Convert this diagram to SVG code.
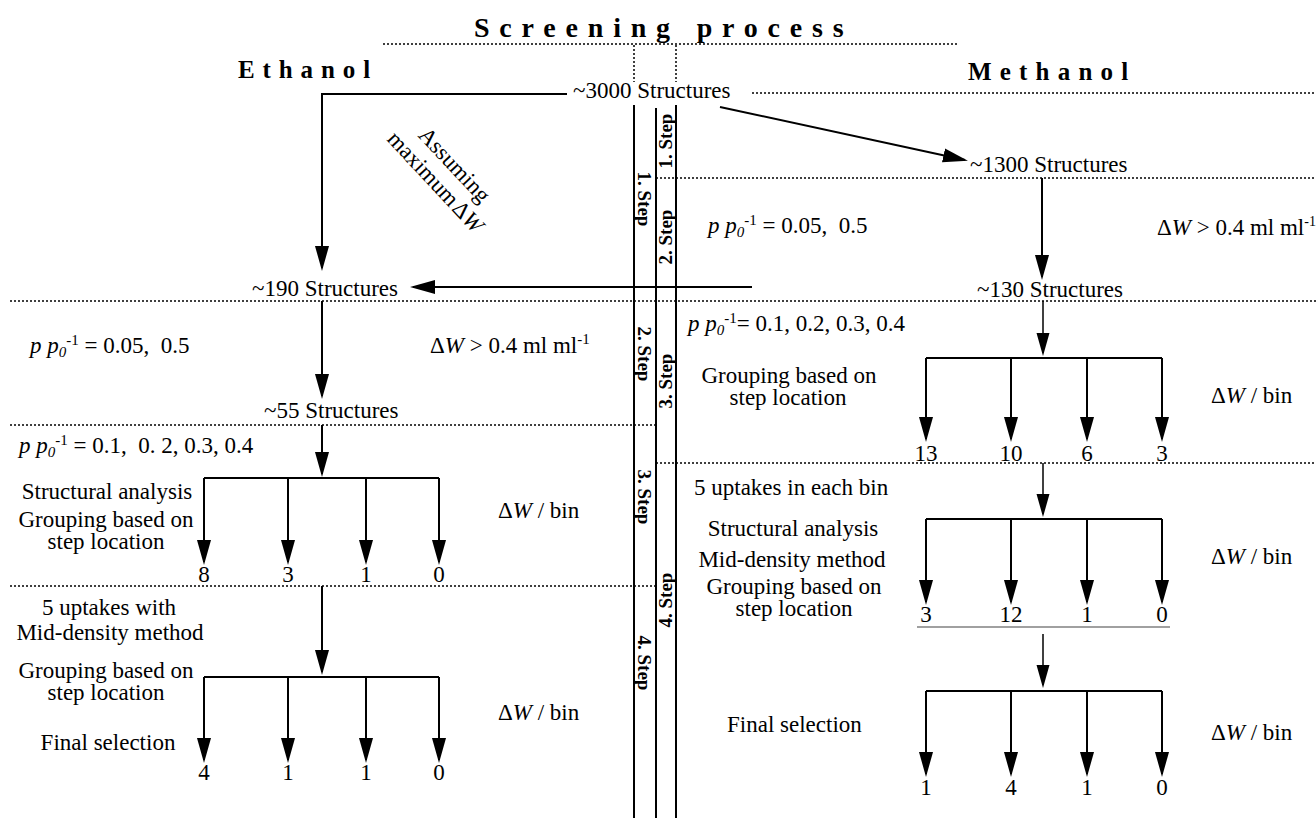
<svg xmlns="http://www.w3.org/2000/svg" width="1316" height="818" viewBox="0 0 1316 818">
<style>
.t{font-family:"Liberation Serif","Times New Roman",serif;font-size:23px;fill:#000}
.h{font-family:"Liberation Serif","Times New Roman",serif;font-weight:bold;fill:#000}
.st{font-family:"Liberation Serif","Times New Roman",serif;font-weight:bold;font-size:19px;fill:#000}
.m{text-anchor:middle}
.i{font-style:italic}
.ln{stroke:#000;stroke-width:2;fill:none}
.thin{stroke:#000;stroke-width:1.5;fill:none}
.dot{stroke:#000;stroke-width:1.5;stroke-dasharray:2 2;fill:none}
</style>
<defs>
<marker id="ah" markerUnits="userSpaceOnUse" markerWidth="26" markerHeight="16" viewBox="0 0 26 16" refX="22" refY="8" orient="auto"><path d="M0,1 L25,8 L0,15 z" fill="#000"/></marker>
<marker id="ahs" markerUnits="userSpaceOnUse" markerWidth="24" markerHeight="14" viewBox="0 0 24 14" refX="20" refY="7" orient="auto"><path d="M0,0.5 L23,7 L0,13.5 z" fill="#000"/></marker>
</defs>

<g id="title">
<text class="h" x="474" y="37" font-size="28" letter-spacing="9.8">Screening process</text>
<text class="h" x="238" y="78" font-size="25" letter-spacing="7.9">Ethanol</text>
<text class="h" x="968" y="80" font-size="25" letter-spacing="8.2">Methanol</text>
</g>

<g id="frame">
<line class="dot" x1="383" y1="44" x2="957" y2="44"/>
<line class="dot" x1="634" y1="45" x2="634" y2="82"/>
<line class="dot" x1="676" y1="45" x2="676" y2="82"/>
<line class="dot" x1="752" y1="93" x2="1316" y2="93"/>
<line class="dot" x1="656" y1="178" x2="1316" y2="178"/>
<line class="dot" x1="10" y1="301" x2="1316" y2="301"/>
<line class="dot" x1="10" y1="425" x2="655" y2="425"/>
<line class="dot" x1="656" y1="463" x2="1316" y2="463"/>
<line class="dot" x1="10" y1="586" x2="655" y2="586"/>
<line class="ln" x1="634" y1="105" x2="634" y2="818" stroke-width="1.8"/>
<line class="ln" x1="656" y1="108" x2="656" y2="818" stroke-width="1.8"/>
<line class="ln" x1="676" y1="105" x2="676" y2="818" stroke-width="1.8"/>
<line x1="917" y1="627" x2="1170" y2="627" stroke="#808080" stroke-width="1.5"/>
</g>

<g id="steps">
<text class="st m" transform="translate(672,141) rotate(-90)">1. Step</text>
<text class="st m" transform="translate(672,237) rotate(-90)">2. Step</text>
<text class="st m" transform="translate(672,381) rotate(-90)">3. Step</text>
<text class="st m" transform="translate(672,600) rotate(-90)">4. Step</text>
<text class="st m" transform="translate(638,199) rotate(90)">1. Step</text>
<text class="st m" transform="translate(638,354) rotate(90)">2. Step</text>
<text class="st m" transform="translate(638,497) rotate(90)">3. Step</text>
<text class="st m" transform="translate(638,663) rotate(90)">4. Step</text>
</g>

<g id="connectors">
<polyline class="ln" points="567,94 322,94 322,268" marker-end="url(#ah)"/>
<line class="ln" x1="720" y1="107" x2="965" y2="160" marker-end="url(#ah)"/>
<line class="ln" x1="1042" y1="178" x2="1042" y2="277" marker-end="url(#ah)"/>
<line class="ln" x1="752" y1="287" x2="413" y2="287" marker-end="url(#ah)"/>
<line class="ln" x1="322" y1="301" x2="322" y2="396" marker-end="url(#ah)"/>
<line class="ln" x1="322" y1="425" x2="322" y2="474" marker-end="url(#ah)"/>
<polyline class="ln" points="204,478 439,478"/>
<line class="ln" x1="204" y1="478" x2="204" y2="562" marker-end="url(#ah)"/>
<line class="ln" x1="288" y1="478" x2="288" y2="562" marker-end="url(#ah)"/>
<line class="ln" x1="366" y1="478" x2="366" y2="562" marker-end="url(#ah)"/>
<line class="ln" x1="439" y1="478" x2="439" y2="562" marker-end="url(#ah)"/>
<line class="ln" x1="322" y1="586" x2="322" y2="672" marker-end="url(#ah)"/>
<polyline class="ln" points="204,677 439,677"/>
<line class="ln" x1="204" y1="677" x2="204" y2="760" marker-end="url(#ah)"/>
<line class="ln" x1="288" y1="677" x2="288" y2="760" marker-end="url(#ah)"/>
<line class="ln" x1="366" y1="677" x2="366" y2="760" marker-end="url(#ah)"/>
<line class="ln" x1="439" y1="677" x2="439" y2="760" marker-end="url(#ah)"/>
<line class="thin" x1="1043" y1="301" x2="1043" y2="353" marker-end="url(#ahs)"/>
<polyline class="ln" points="926,358 1162,358"/>
<line class="ln" x1="926" y1="358" x2="926" y2="439" marker-end="url(#ah)"/>
<line class="ln" x1="1011" y1="358" x2="1011" y2="439" marker-end="url(#ah)"/>
<line class="ln" x1="1087" y1="358" x2="1087" y2="439" marker-end="url(#ah)"/>
<line class="ln" x1="1162" y1="358" x2="1162" y2="439" marker-end="url(#ah)"/>
<line class="thin" x1="1043" y1="463" x2="1043" y2="514" marker-end="url(#ahs)"/>
<polyline class="ln" points="926,519 1162,519"/>
<line class="ln" x1="926" y1="519" x2="926" y2="602" marker-end="url(#ah)"/>
<line class="ln" x1="1011" y1="519" x2="1011" y2="602" marker-end="url(#ah)"/>
<line class="ln" x1="1087" y1="519" x2="1087" y2="602" marker-end="url(#ah)"/>
<line class="ln" x1="1162" y1="519" x2="1162" y2="602" marker-end="url(#ah)"/>
<line class="thin" x1="1043" y1="634" x2="1043" y2="685" marker-end="url(#ahs)"/>
<polyline class="ln" points="926,691 1162,691"/>
<line class="ln" x1="926" y1="691" x2="926" y2="774" marker-end="url(#ah)"/>
<line class="ln" x1="1011" y1="691" x2="1011" y2="774" marker-end="url(#ah)"/>
<line class="ln" x1="1087" y1="691" x2="1087" y2="774" marker-end="url(#ah)"/>
<line class="ln" x1="1162" y1="691" x2="1162" y2="774" marker-end="url(#ah)"/>
</g>

<g id="n3000"><text class="t" x="573" y="98">~3000 Structures</text></g>
<g id="assume">
<text class="t m" font-size="19" transform="translate(449,170) rotate(47)">Assuming</text>
<text class="t m" font-size="19" transform="translate(430,187) rotate(47)">maximum<tspan dx="2">Δ</tspan><tspan class="i">W</tspan></text>
</g>
<g id="n1300"><text class="t" x="970" y="172">~1300 Structures</text></g>
<g id="cond1r">
<text class="t" x="708" y="233" xml:space="preserve"><tspan class="i">p p</tspan><tspan class="i" font-size="15" dy="4">0</tspan><tspan font-size="15" dy="-12">-1</tspan><tspan dy="8"> = 0.05,  0.5</tspan></text>
<text class="t" x="1157" y="235" font-size="21">Δ<tspan class="i">W</tspan> &gt; 0.4 ml ml<tspan font-size="14" dy="-9">-1</tspan></text>
</g>
<g id="n190"><text class="t" x="252" y="296">~190 Structures</text></g>
<g id="n130"><text class="t" x="977" y="297">~130 Structures</text></g>

<g id="left2">
<text class="t" x="30" y="353" xml:space="preserve"><tspan class="i">p p</tspan><tspan class="i" font-size="15" dy="4">0</tspan><tspan font-size="15" dy="-12">-1</tspan><tspan dy="8"> = 0.05,  0.5</tspan></text>
<text class="t" x="430" y="353">Δ<tspan class="i">W</tspan> &gt; 0.4 ml ml<tspan font-size="15" dy="-9">-1</tspan></text>
</g>
<g id="n55"><text class="t" x="264" y="418">~55 Structures</text></g>

<g id="left3">
<text class="t" x="19" y="453" xml:space="preserve"><tspan class="i">p p</tspan><tspan class="i" font-size="15" dy="4">0</tspan><tspan font-size="15" dy="-12">-1</tspan><tspan dy="8"> = 0.1,  0. 2, 0.3, 0.4</tspan></text>
<text class="t m" x="107" y="499">Structural analysis</text>
<text class="t m" x="106" y="527">Grouping based on</text>
<text class="t m" x="106" y="549">step location</text>
<text class="t" x="498" y="518">Δ<tspan class="i">W</tspan> / bin</text>
<text class="t m" x="204" y="582">8</text>
<text class="t m" x="288" y="582">3</text>
<text class="t m" x="366" y="582">1</text>
<text class="t m" x="439" y="582">0</text>
</g>

<g id="left4">
<text class="t m" x="109" y="615">5 uptakes with</text>
<text class="t m" x="110" y="640">Mid-density method</text>
<text class="t m" x="106" y="678">Grouping based on</text>
<text class="t m" x="106" y="700">step location</text>
<text class="t m" x="108" y="750">Final selection</text>
<text class="t" x="498" y="720">Δ<tspan class="i">W</tspan> / bin</text>
<text class="t m" x="204" y="780">4</text>
<text class="t m" x="288" y="780">1</text>
<text class="t m" x="366" y="780">1</text>
<text class="t m" x="439" y="780">0</text>
</g>

<g id="right2">
<text class="t" x="688" y="331"><tspan class="i">p p</tspan><tspan class="i" font-size="15" dy="4">0</tspan><tspan font-size="15" dy="-12">-1</tspan><tspan dy="8">= 0.1, 0.2, 0.3, 0.4</tspan></text>
<text class="t m" x="789" y="383">Grouping based on</text>
<text class="t m" x="788" y="405">step location</text>
<text class="t" x="1211" y="403">Δ<tspan class="i">W</tspan> / bin</text>
<text class="t m" x="926" y="461">13</text>
<text class="t m" x="1011" y="461">10</text>
<text class="t m" x="1087" y="461">6</text>
<text class="t m" x="1162" y="461">3</text>
</g>

<g id="right3">
<text class="t" x="694" y="495">5 uptakes in each bin</text>
<text class="t m" x="793" y="536">Structural analysis</text>
<text class="t m" x="792" y="567">Mid-density method</text>
<text class="t m" x="794" y="594">Grouping based on</text>
<text class="t m" x="794" y="616">step location</text>
<text class="t" x="1211" y="564">Δ<tspan class="i">W</tspan> / bin</text>
<text class="t m" x="926" y="622">3</text>
<text class="t m" x="1011" y="622">12</text>
<text class="t m" x="1087" y="622">1</text>
<text class="t m" x="1162" y="622">0</text>
</g>

<g id="right4">
<text class="t" x="727" y="732">Final selection</text>
<text class="t" x="1211" y="740">Δ<tspan class="i">W</tspan> / bin</text>
<text class="t m" x="926" y="795">1</text>
<text class="t m" x="1011" y="795">4</text>
<text class="t m" x="1087" y="795">1</text>
<text class="t m" x="1162" y="795">0</text>
</g>
</svg>
